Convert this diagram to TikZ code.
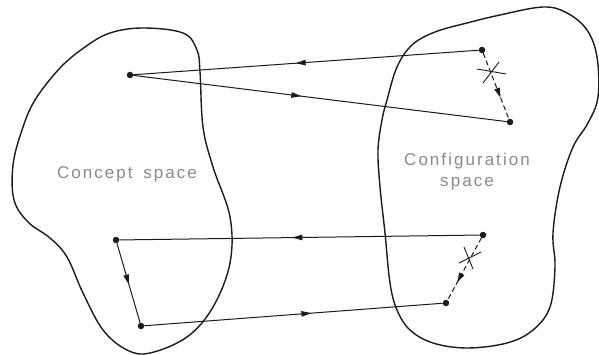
\documentclass[tikz,border=0pt]{standalone}
\usepackage{fontspec}
\newfontfamily\labfont{Liberation Sans}[LetterSpace=12]
\usetikzlibrary{arrows.meta,decorations.markings}
\definecolor{ink}{HTML}{1A1A1A}
\definecolor{labgray}{HTML}{8A8A8A}
\tikzset{
  blob/.style={draw=ink, line width=1.4pt, smooth cycle, tension=0.6},
  dot/.style={circle, fill=ink, inner sep=0pt, minimum size=6.5pt},
  link/.style={draw=ink, line width=1pt},
  dashlink/.style={draw=ink, line width=1pt, dash pattern=on 5pt off 3pt},
  midarrow/.style={postaction={decorate}, decoration={markings,
     mark=at position #1 with {\arrow{Triangle[length=10pt,width=5.5pt]}}}},
  cross/.style={draw=ink, line width=0.9pt},
  lab/.style={text=labgray, font=\labfont\fontsize{17}{21}\selectfont, align=center, inner sep=0pt}
}
\begin{document}
\begin{tikzpicture}[x=1pt,y=-1pt]
\useasboundingbox (0,0) rectangle (599,355);
% left blob (concept space)
\draw[blob] plot coordinates {(143,28) (183,33) (197,50) (200,72) (203,127) (213,167) (230,217) (230,263) (213,307) (187,337) (150,353) (127,350) (103,330) (83,293) (67,257) (50,238) (28,222) (14,200) (13,165) (22,130) (35,100) (60,68) (85,47) (110,33)};
% right blob (configuration space)
\draw[blob] plot coordinates {(387,100) (397,67) (412,45) (435,32) (467,23) (500,15) (543,7) (567,13) (587,30) (597,57) (598,97) (588,123) (573,147) (560,187) (553,233) (555,267) (550,307) (533,330) (507,343) (467,348) (433,343) (410,330) (397,310) (390,283) (385,233) (380,187) (378,150) (382,120)};
% labels
\node[lab] (cs) at (127,174) {Concept\hspace{4pt} space};
\node[lab, text depth=0pt] (cf) at (467,170) {Configuration\\space};
% points
\node[dot] (A) at (130,75) {};
\node[dot] (B) at (482,50) {};
\node[dot] (C) at (510,122) {};
\node[dot] (D) at (116,240) {};
\node[dot] (E) at (483,235) {};
\node[dot] (F) at (446,303) {};
\node[dot] (G) at (141,326) {};
% connectors
\draw[link, midarrow=0.53] (B) -- (A);
\draw[link, midarrow=0.45] (A) -- (C);
\draw[dashlink, midarrow=0.68] (B) -- (C);
\draw[link, midarrow=0.52] (E) -- (D);
\draw[link, midarrow=0.52] (D) -- (G);
\draw[link, midarrow=0.56] (G) -- (F);
\draw[dashlink, midarrow=0.72] (E) -- (F);
% crosses
\draw[cross] (477,69) -- (506,74);
\draw[cross] (483,83) -- (499,62);
\draw[cross] (459,263) -- (481,252);
\draw[cross] (464,247) -- (473,269);
\end{tikzpicture}
\end{document}
